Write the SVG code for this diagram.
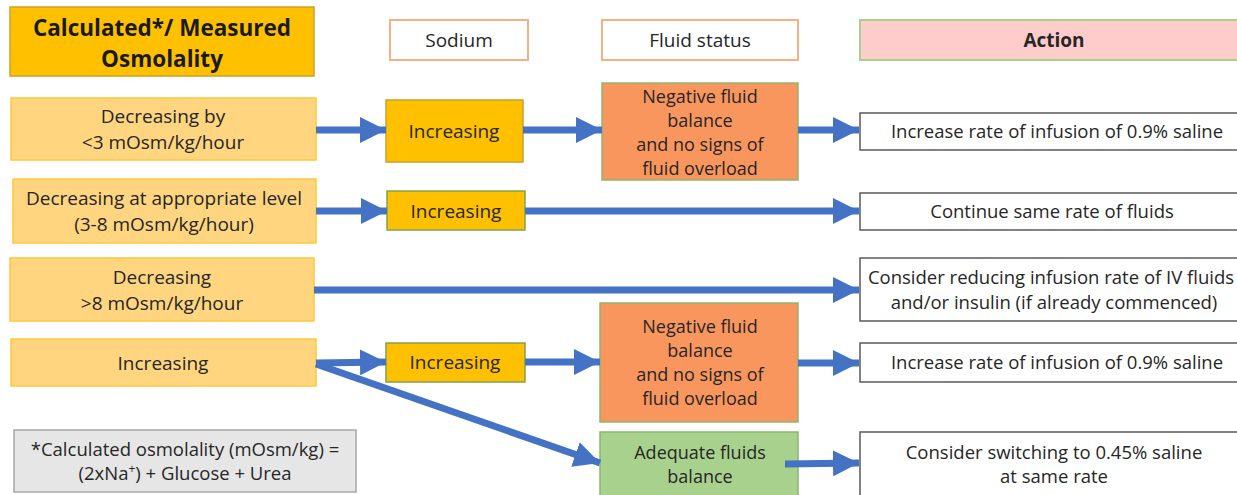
<svg xmlns="http://www.w3.org/2000/svg" width="1237" height="495" viewBox="0 0 1237 495">
<style>
text{font-family:"Open Sans","Liberation Sans",sans-serif;font-size:19px;fill:#262626;text-anchor:middle}
.b{font-weight:bold;font-size:22.5px;fill:#1a1a1a}
.s{font-size:18.5px}
.t{font-size:18px}
.osm{fill:#FFD57F;stroke:#FFC83A;stroke-width:1.5}
.na{fill:#FFC000;stroke:#C9A227;stroke-width:1.5}
.nag{fill:#FFC000;stroke:#7FA350;stroke-width:1.5}
.fl{fill:#F9965E;stroke:#8DB56E;stroke-width:1.5}
.ad{fill:#A9D18E;stroke:#8DB56E;stroke-width:1.5}
.hd{fill:#fff;stroke:#F4B183;stroke-width:2}
.act{fill:#fff;stroke:#595959;stroke-width:1.5}
.c line{stroke:#4472C4;stroke-width:7;marker-end:url(#ah)}
</style>
<defs>
<marker id="ah" markerUnits="userSpaceOnUse" markerWidth="26" markerHeight="26" refX="26" refY="13" orient="auto">
<path d="M0,0 L26,13 L0,26 Z" fill="#4472C4"/>
</marker>
</defs>
<rect width="1237" height="495" fill="#fff"/>
<g id="title">
<rect x="10" y="7" width="304" height="69" fill="#FFC000" stroke="#C9A227" stroke-width="1.5"/>
<text class="b" x="162" y="36">Calculated*/ Measured</text>
<text class="b" x="162" y="67">Osmolality</text>
</g>
<g id="h-sodium"><rect class="hd" x="390" y="20" width="138" height="40"/><text x="459" y="47">Sodium</text></g>
<g id="h-fluid"><rect class="hd" x="602" y="20" width="196" height="40"/><text x="700" y="47">Fluid status</text></g>
<g id="h-action"><rect x="860" y="20" width="380" height="40" fill="#FFCCCC" stroke="#A9D18E" stroke-width="2"/><text x="1054" y="47" font-weight="bold">Action</text></g>

<g id="o1"><rect class="osm" x="11" y="98" width="305" height="62"/><text x="163" y="123">Decreasing by</text><text x="163" y="149">&lt;3 mOsm/kg/hour</text></g>
<g id="o2"><rect class="osm" x="13" y="179" width="303" height="64"/><text x="164" y="205">Decreasing at appropriate level</text><text x="164" y="231">(3-8 mOsm/kg/hour)</text></g>
<g id="o3"><rect class="osm" x="10" y="258" width="304" height="63"/><text x="162" y="284">Decreasing</text><text x="162" y="310">&gt;8 mOsm/kg/hour</text></g>
<g id="o4"><rect class="osm" x="11" y="339" width="305" height="47"/><text x="163" y="370">Increasing</text></g>

<g id="n1"><rect class="na" x="386" y="100" width="137" height="62"/><text x="454" y="138">Increasing</text></g>
<g id="n2"><rect class="nag" x="387" y="191" width="138" height="39"/><text x="456" y="218">Increasing</text></g>
<g id="n4"><rect class="nag" x="386" y="343" width="139" height="39"/><text x="455" y="369">Increasing</text></g>

<g id="f1" class="t"><rect class="fl" x="602" y="83" width="196" height="97"/><text class="t" x="700" y="103">Negative fluid</text><text class="t" x="700" y="127">balance</text><text class="t" x="700" y="151">and no signs of</text><text class="t" x="700" y="175">fluid overload</text></g>
<g id="f4"><rect class="fl" x="600" y="303" width="198" height="119"/><text class="t" x="700" y="333">Negative fluid</text><text class="t" x="700" y="357">balance</text><text class="t" x="700" y="381">and no signs of</text><text class="t" x="700" y="405">fluid overload</text></g>
<g id="f5"><rect class="ad" x="600" y="432" width="198" height="70"/><text class="t" x="700" y="459">Adequate fluids</text><text class="t" x="700" y="483">balance</text></g>

<g id="a1"><rect class="act" x="860" y="113" width="380" height="37"/><text class="s" x="1057" y="138">Increase rate of infusion of 0.9% saline</text></g>
<g id="a2"><rect class="act" x="860" y="193" width="380" height="37"/><text class="s" x="1052" y="218">Continue same rate of fluids</text></g>
<g id="a3"><rect class="act" x="860" y="258" width="380" height="63"/><text class="s" x="1051" y="284">Consider reducing infusion rate of IV fluids</text><text class="s" x="1054" y="309">and/or insulin (if already commenced)</text></g>
<g id="a4"><rect class="act" x="860" y="343" width="380" height="39"/><text class="s" x="1057" y="369">Increase rate of infusion of 0.9% saline</text></g>
<g id="a5"><rect class="act" x="860" y="432" width="380" height="70"/><text class="s" x="1054" y="459">Consider switching to 0.45% saline</text><text class="s" x="1054" y="483">at same rate</text></g>

<g id="note"><rect x="14" y="430" width="342" height="62" fill="#E7E6E6" stroke="#A6A6A6" stroke-width="1.5"/><text class="s" x="185" y="456">*Calculated osmolality (mOsm/kg) =</text><text class="s" x="185" y="480">(2xNa<tspan font-size="12" dy="-7">+</tspan><tspan dy="7">) + Glucose + Urea</tspan></text></g>

<g class="c" id="connectors">
<line x1="316" y1="130" x2="386" y2="130"/>
<line x1="523" y1="130" x2="602" y2="130"/>
<line x1="798" y1="130" x2="859" y2="130"/>
<line x1="316" y1="211" x2="387" y2="211"/>
<line x1="525" y1="211" x2="859" y2="211"/>
<line x1="314" y1="290" x2="859" y2="290"/>
<line x1="316" y1="363" x2="386" y2="362"/>
<line x1="525" y1="362" x2="600" y2="362"/>
<line x1="798" y1="363" x2="859" y2="363"/>
<line x1="316" y1="364" x2="600" y2="463"/>
<line x1="785" y1="464" x2="859" y2="463"/>
</g>
</svg>
